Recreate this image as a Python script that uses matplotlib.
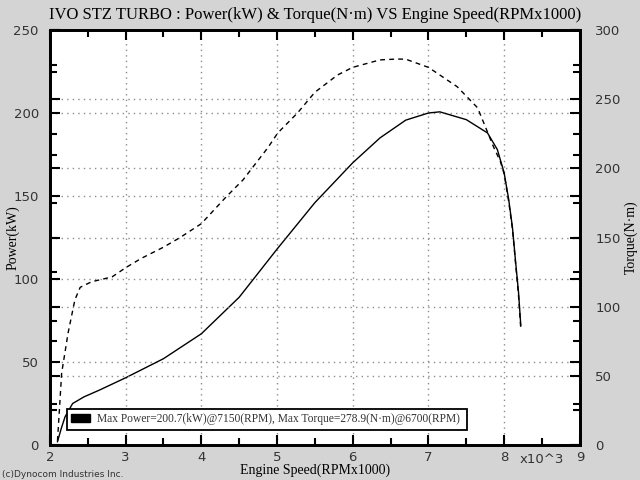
import matplotlib
matplotlib.use('Agg')
import matplotlib.pyplot as plt
from matplotlib.patches import Patch
from matplotlib.ticker import MultipleLocator

# power curve (kW) vs engine speed (x1000 rpm)
power_rpm = [2.10, 2.15, 2.20, 2.30, 2.45, 2.65, 3.0, 3.5, 4.0, 4.5, 5.0, 5.5,
             6.0, 6.36, 6.7, 7.0, 7.15, 7.5, 7.78, 7.91, 8.0, 8.06, 8.11,
             8.15, 8.19, 8.22]
power_kw = [2, 10, 17, 25, 29, 33, 40.5, 52, 67, 89, 118, 146,
            170, 185, 195.7, 200, 200.7, 196, 188, 178, 164, 148, 131,
            111, 92, 72]

# torque curve (N·m)
torque_rpm = [2.10, 2.155, 2.24, 2.33, 2.40, 2.55, 2.82, 3.01, 3.21, 3.5, 3.72,
              4.0, 4.33, 4.55, 4.88, 5.01, 5.27, 5.5, 5.8, 6.0, 6.36, 6.59,
              6.7, 7.0, 7.38, 7.65, 7.86, 7.95, 8.0, 8.06, 8.11, 8.15, 8.19,
              8.22]
torque_nm = [3, 52, 81, 105, 114, 118, 121.5, 128.5, 135, 143, 150,
             160, 179.5, 191.6, 215, 225.6, 240, 255, 267.5, 273, 278.4, 279,
             278.9, 273, 259, 243.7, 215.5, 205, 196, 176, 156, 132, 108,
             84]

x_ticks = [2, 3, 4, 5, 6, 7, 8, 9]
x_ticklabels = ['2', '3', '4', '5', '6', '7', '8', '9']
legend_text = 'Max Power=200.7(kW)@7150(RPM), Max Torque=278.9(N\u00b7m)@6700(RPM)'

bg = '#d4d4d4'
grid_c = '#8c8c8c'
lab_c = '#333333'
serif = 'Liberation Serif'

fig = plt.figure(figsize=(6.4, 4.8), dpi=100, facecolor=bg)
ax = fig.add_axes([0.078, 0.0729, 0.828, 0.8646])
ax2 = ax.twinx()

ax.plot(power_rpm, power_kw, color='black', lw=1.0, zorder=3)
ax2.plot(torque_rpm, torque_nm, color='black', lw=1.0, ls=(0, (3.5, 3)), zorder=3)

ax.set_xlim(2, 9)
ax.set_ylim(0, 250)
ax2.set_ylim(0, 300)

ax.set_xticks(x_ticks)
ax.set_xticklabels(x_ticklabels)
ax.xaxis.set_minor_locator(MultipleLocator(0.5))
ax.yaxis.set_major_locator(MultipleLocator(50))
ax.yaxis.set_minor_locator(MultipleLocator(25))
ax2.yaxis.set_major_locator(MultipleLocator(50))
ax2.yaxis.set_minor_locator(MultipleLocator(25))

ax.tick_params(axis='both', which='both', direction='in', width=1.5,
               top=True, labelsize=9.5, labelcolor=lab_c)
ax.tick_params(axis='y', which='both', right=True, labelright=False)
ax.tick_params(axis='x', which='major', length=7, pad=4)
ax.tick_params(axis='x', which='minor', length=5)
ax.tick_params(axis='y', which='major', length=7, pad=8)
ax.tick_params(axis='y', which='minor', length=5)
ax2.tick_params(axis='y', which='both', direction='in', width=1.5,
                left=True, labelleft=False, labelsize=9.5, labelcolor=lab_c)
ax2.tick_params(axis='y', which='major', length=7, pad=11)
ax2.tick_params(axis='y', which='minor', length=5)

ax.text(8.5, -0.02, 'x10^3', transform=ax.get_xaxis_transform(),
        ha='center', va='top', fontsize=9.5, color=lab_c)

ax.grid(True, which='major', ls=(0, (1, 3)), color=grid_c, lw=1.0)
ax2.grid(True, which='major', axis='y', ls=(0, (1, 3)), color=grid_c, lw=1.0)

for a in (ax, ax2):
    for s in a.spines.values():
        s.set_linewidth(2)
        s.set_color('black')

ax.set_title('IVO STZ TURBO : Power(kW) & Torque(N\u00b7m) VS Engine Speed(RPMx1000)',
             fontsize=12, family=serif, pad=8)
ax.set_xlabel('Engine Speed(RPMx1000)', fontsize=10, family=serif)
ax.xaxis.set_label_coords(0.5, -0.045)
ax.set_ylabel('Power(kW)', fontsize=10, family=serif)
ax.yaxis.set_label_coords(-0.057, 0.5)
ax2.set_ylabel('Torque(N\u00b7m)', fontsize=10, family=serif)
ax2.yaxis.set_label_coords(1.084, 0.5)

leg = ax2.legend(handles=[Patch(facecolor='black', edgecolor='black')],
                 labels=[legend_text], loc='lower left',
                 bbox_to_anchor=(0.032, 0.036, 0.755, 0.063), mode='expand',
                 fancybox=False, framealpha=1, edgecolor='black',
                 borderaxespad=0, handlelength=1.6, handleheight=0.7,
                 handletextpad=0.6, prop={'family': serif, 'size': 8.3})
leg.get_frame().set_linewidth(1.3)
for t in leg.get_texts():
    t.set_color(lab_c)

fig.text(0.003, 0.006, '(c)Dynocom Industries Inc.', fontsize=6.5, color=lab_c)

fig.savefig('out.png', dpi=100, facecolor=bg)
